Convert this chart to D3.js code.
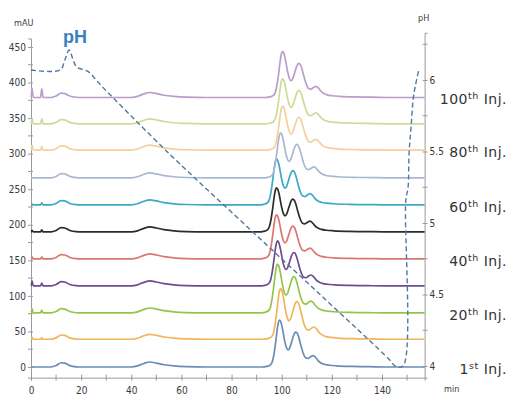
<!DOCTYPE html>
<html>
<head>
<meta charset="utf-8">
<script src="https://cdn.jsdelivr.net/npm/d3@7"></script>
<style>
  body { margin: 0; background: #fff; }
  svg { display: block; }
</style>
</head>
<body>
<svg id="chart" width="508" height="399"></svg>
<script>
// Reference chromatogram shape (mAU above baseline) against retention time (min)
const profileTime   = [0, 8, 10, 12, 13.5, 15.5, 18, 20, 40, 42.5, 45, 47.5, 50, 53, 57, 62, 70,
  92, 94, 95.5, 96.3, 97, 97.7, 98.3, 98.8, 99.2, 99.7, 100.3, 101, 101.8, 102.5, 103.2,
  104, 104.8, 105.5, 106.1, 106.8, 107.6, 108.5, 109.5, 110.5, 111.5, 112.5, 113.5, 114.5,
  115.5, 117, 119, 122, 128, 135, 145, 157];
const profileSignal = [0, 0, 2, 6, 5.5, 2, 0.3, 0, 0, 1.5, 5, 7, 5.5, 3.2, 1.5, 0.5, 0,
  0, 0.8, 3, 8, 20, 38, 55, 64, 66, 63, 54, 40, 28, 24, 27,
  36, 45, 49, 48, 42, 31, 20, 13, 12, 14.5, 16, 13.5, 9,
  6, 3.8, 2.5, 1.6, 0.8, 0.4, 0, 0];

// One trace every 10 injections (1st ... 100th), stacked by baseline offset
const seriesColors  = ["#6a8cb5", "#f1b55a", "#92c64a", "#6c4c8f", "#d9776f", "#2b2b2b",
  "#3ea8c4", "#a9b8d2", "#f5cf9c", "#cadd98", "#b99dcb"];
const seriesOffsets = [0, 39, 76, 114, 152, 190, 228, 266, 305, 342, 379];
const peakGains     = [1.0, 1.08, 1.04, 0.96, 0.94, 0.94, 0.98, 0.96, 0.94, 0.96, 0.98];
const peakShifts    = [0, 0.4, -0.8, -0.8, -1.2, -1.2, -1.2, 0.4, 1.2, 1.2, 1.2];
const injectionSpikeTimes = [0.4, 4.3];
const spikeHeights  = [[0, 0], [3, 2], [6, 4], [7, 4], [3, 3], [2, 3], [1, 3], [0, 0], [7, 5], [7, 7], [13, 12]];

// pH gradient trace
const phTime  = [0, 11.6, 13.5, 15.2, 17.0, 18.3, 22.7, 27.5, 55.4, 83.4, 115.3, 143.2, 145.2,
  148.4, 149.5, 150.4, 150.8, 151.6, 152.4, 153.2, 154.8];
const phValue = [6.07, 6.07, 6.14, 6.21, 6.13, 6.09, 6.06, 5.97, 5.48, 5.02, 4.50, 4.04, 4.0,
  4.0, 5.16, 5.25, 5.49, 5.67, 5.86, 5.95, 6.08];

// Axis ticks
const mauMajor = [0, 50, 100, 150, 200, 250, 300, 350, 400, 450];
const mauMinor = [25, 75, 125, 175, 225, 275, 325, 375, 425];
const minMajor = [0, 20, 40, 60, 80, 100, 120, 140];
const minMinor = [10, 30, 50, 70, 90, 110, 130, 150];
const phMajor  = [4, 4.5, 5, 5.5, 6];
const phMinor  = [4.25, 4.75, 5.25, 5.75, 6.25];
const phTickText = ["4", "4.5", "5", "5.5", "6"];

// Injection labels
const labelSeries = [0, 2, 4, 6, 8, 10];
const labelNumber = ["1", "20", "40", "60", "80", "100"];
const labelSuffix = ["st", "th", "th", "th", "th", "th"];

const svg = d3.select("#chart");
const axisColor = "#9a9a9a";
const tickFont = "'Liberation Sans Narrow', 'DejaVu Sans Condensed', Arial, sans-serif";

const x = d3.scaleLinear().domain([0, 140]).range([31, 382]);
const y = d3.scaleLinear().domain([0, 450]).range([367, 47]);
const yPH = d3.scaleLinear().domain([4, 6]).range([366, 80]);

const xAxisScale = x.copy().domain([0, 157]).range([x(0), x(157)]);
const yAxisScale = y.copy().domain([-15, 462]).range([y(-15), y(462)]);
const phAxisScale = yPH.copy().domain([yPH.invert(y(-15)), 6.33]).range([y(-15), yPH(6.33)]);

function styleAxis(g) {
  g.select(".domain").attr("stroke", axisColor).attr("stroke-width", 1);
  g.selectAll(".tick line").attr("stroke", axisColor);
  g.selectAll(".tick text").attr("fill", "#3a3a3a").attr("font-family", tickFont).attr("font-size", 10);
}

// Left axis (mAU)
const gLeft = svg.append("g").attr("transform", `translate(${x(0)},0)`)
  .call(d3.axisLeft(yAxisScale).tickValues(mauMajor).tickSizeOuter(0).tickSize(3).tickPadding(2));
styleAxis(gLeft);
gLeft.selectAll(".tick line").attr("x1", 2);
gLeft.selectAll(".minor").data(mauMinor).enter().append("line")
  .attr("x1", -3).attr("x2", 2).attr("y1", d => y(d)).attr("y2", d => y(d))
  .attr("stroke", axisColor);

// Bottom axis (min)
const gBottom = svg.append("g").attr("transform", `translate(0,${y(-15)})`)
  .call(d3.axisBottom(xAxisScale).tickValues(minMajor).tickSizeOuter(0).tickSize(3).tickPadding(6));
styleAxis(gBottom);
gBottom.selectAll(".tick line").attr("y1", -3);
gBottom.selectAll(".minor").data(minMinor).enter().append("line")
  .attr("x1", d => x(d)).attr("x2", d => x(d)).attr("y1", -3).attr("y2", 3)
  .attr("stroke", axisColor);

// Right axis (pH)
const gRight = svg.append("g").attr("transform", `translate(${x(157)},0)`)
  .call(d3.axisRight(phAxisScale).tickValues(phMajor).tickFormat((d, i) => phTickText[i])
    .tickSizeOuter(0).tickSize(3).tickPadding(2));
styleAxis(gRight);
gRight.selectAll(".tick line").attr("x1", -2);
gRight.selectAll(".minor").data(phMinor).enter().append("line")
  .attr("x1", -2).attr("x2", 3).attr("y1", d => yPH(d)).attr("y2", d => yPH(d))
  .attr("stroke", axisColor);

// Axis titles
svg.append("text").attr("x", 14).attr("y", 26).text("mAU")
  .attr("font-family", tickFont).attr("font-size", 9).attr("fill", "#3a3a3a");
svg.append("text").attr("x", 418).attr("y", 21).text("pH")
  .attr("font-family", tickFont).attr("font-size", 9).attr("fill", "#3a3a3a");
svg.append("text").attr("x", 444).attr("y", 392).text("min")
  .attr("font-family", tickFont).attr("font-size", 9).attr("fill", "#3a3a3a");

// Build each stacked trace from the reference profile
function tracePoints(i) {
  const pts = profileTime.map((t, k) => {
    const tt = t >= 90 && t < 157 ? t + peakShifts[i] : t;
    const v = t >= 90 ? profileSignal[k] * peakGains[i] : profileSignal[k];
    return [tt, seriesOffsets[i] + v];
  });
  injectionSpikeTimes.forEach((st, j) => {
    const h = spikeHeights[i][j];
    if (h > 0) {
      pts.push([Math.max(0.05, st - 0.5), seriesOffsets[i]]);
      pts.push([st, seriesOffsets[i] + h]);
      pts.push([st + 0.5, seriesOffsets[i]]);
    }
  });
  pts.sort((a, b) => a[0] - b[0]);
  return pts;
}

const traceLine = d3.line()
  .x(d => x(d[0])).y(d => y(d[1]))
  .curve(d3.curveMonotoneX);

const gTraces = svg.append("g");
seriesOffsets.forEach((off, i) => {
  gTraces.append("path")
    .attr("d", traceLine(tracePoints(i)))
    .attr("fill", "none")
    .attr("stroke", seriesColors[i])
    .attr("stroke-width", 1.7)
    .attr("stroke-linejoin", "round");
});

// pH gradient (dashed)
const phLine = d3.line()
  .x((d, i) => x(phTime[i])).y((d, i) => yPH(phValue[i]))
  .curve(d3.curveCatmullRom.alpha(0.5));
svg.append("path")
  .attr("d", phLine(phTime))
  .attr("fill", "none")
  .attr("stroke", "#52789f")
  .attr("stroke-width", 1.4)
  .attr("stroke-dasharray", "5,3");

svg.append("text").attr("x", 63).attr("y", 43).text("pH")
  .attr("font-family", "'Liberation Sans', Arial, sans-serif")
  .attr("font-weight", "bold").attr("font-size", 18).attr("fill", "#3b7ec2");

// Injection labels at the right
const gLabels = svg.append("g")
  .attr("font-family", "'DejaVu Sans', Verdana, sans-serif")
  .attr("font-size", 14).attr("letter-spacing", 0.5).attr("fill", "#333");
labelSeries.forEach((si, k) => {
  const t = gLabels.append("text")
    .attr("x", 507).attr("y", y(seriesOffsets[si]) + 7)
    .attr("text-anchor", "end");
  t.append("tspan").text(labelNumber[k]);
  t.append("tspan").text(labelSuffix[k]).attr("font-size", 9.5).attr("dy", -5);
  t.append("tspan").text(" Inj.").attr("dy", 5);
});
</script>
</body>
</html>
